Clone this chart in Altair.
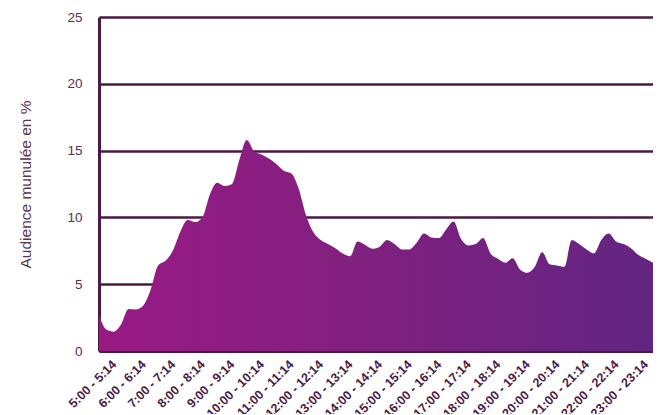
import altair as alt
import pandas as pd

# quarter-hour slots starting 5:00 (index 0) to 23:45 (index 75)
hours = list(range(5, 24))
values = [
    2.7, 1.6, 1.45, 2.0, 3.15, 3.1, 3.4, 4.6,          # 5h-6h
    6.4, 6.75, 7.5, 8.9, 9.8, 9.65, 10.0, 11.7,         # 7h-8h
    12.6, 12.35, 12.5, 14.3, 15.8, 14.95, 14.7, 14.4,   # 9h-10h
    14.0, 13.5, 13.3, 12.2, 10.2, 8.9, 8.3, 8.0,        # 11h-12h
    7.7, 7.3, 7.1, 8.2, 7.95, 7.65, 7.8, 8.3,           # 13h-14h
    8.0, 7.6, 7.6, 8.1, 8.8, 8.5, 8.45, 9.1,            # 15h-16h
    9.7, 8.4, 7.9, 8.0, 8.45, 7.3, 6.9, 6.6,            # 17h-18h
    6.95, 6.1, 5.85, 6.3, 7.4, 6.5, 6.4, 6.3,           # 19h-20h
    8.3, 8.0, 7.6, 7.3, 8.3, 8.8, 8.2, 8.0,             # 21h-22h
    7.7, 7.2, 6.9, 6.6,                                 # 23h
]
tick_hours = [h + 0.5 for h in hours]

df = pd.DataFrame({"h": [5 + i / 4 for i in range(len(values))], "v": values})

dark = "#4a1a44"

area = alt.Chart(df).mark_area(
    interpolate="monotone",
    color=alt.Gradient(
        gradient="linear",
        stops=[
            alt.GradientStop(color="#981a84", offset=0),
            alt.GradientStop(color="#80207f", offset=0.5),
            alt.GradientStop(color="#622582", offset=1),
        ],
        x1=0, x2=1, y1=0, y2=0,
    ),
).encode(
    x=alt.X(
        "h:Q",
        scale=alt.Scale(domain=[5, 23.75], nice=False, zero=False),
        axis=alt.Axis(
            values=tick_hours,
            labelExpr="floor(datum.value) + ':00 - ' + floor(datum.value) + ':14'",
            labelAngle=-45,
            labelAlign="right",
            labelBaseline="middle",
            labelFont="Liberation Sans",
            labelFontWeight="bold",
            labelFontSize=12.5,
            labelColor=dark,
            labelPadding=11,
            ticks=False,
            grid=False,
            domainColor=dark,
            domainWidth=3,
            title=None,
            labelOverlap=False,
            labelBound=False,
            labelFlush=False,
        ),
    ),
    y=alt.Y(
        "v:Q",
        scale=alt.Scale(domain=[0, 25], nice=False),
        axis=alt.Axis(
            values=[0, 5, 10, 15, 20, 25],
            labelFont="Liberation Sans",
            labelFontSize=13.5,
            labelColor="#553050",
            labelPadding=17,
            ticks=False,
            grid=True,
            gridColor=dark,
            gridWidth=2.5,
            domainColor=dark,
            domainWidth=3,
            title="Audience munulée en %",
            titleFont="Liberation Sans",
            titleFontSize=15.5,
            titleFontWeight="normal",
            titleColor="#5a3555",
            titlePadding=33,
        ),
    ),
)

chart = area.properties(
    width=554,
    height=334,
    autosize=alt.AutoSizeParams(type="none"),
    padding={"left": 91, "top": 9, "right": 0, "bottom": 63},
).configure_view(stroke=None)

chart.save("out.html", embed_options={"renderer": "svg", "actions": False})
